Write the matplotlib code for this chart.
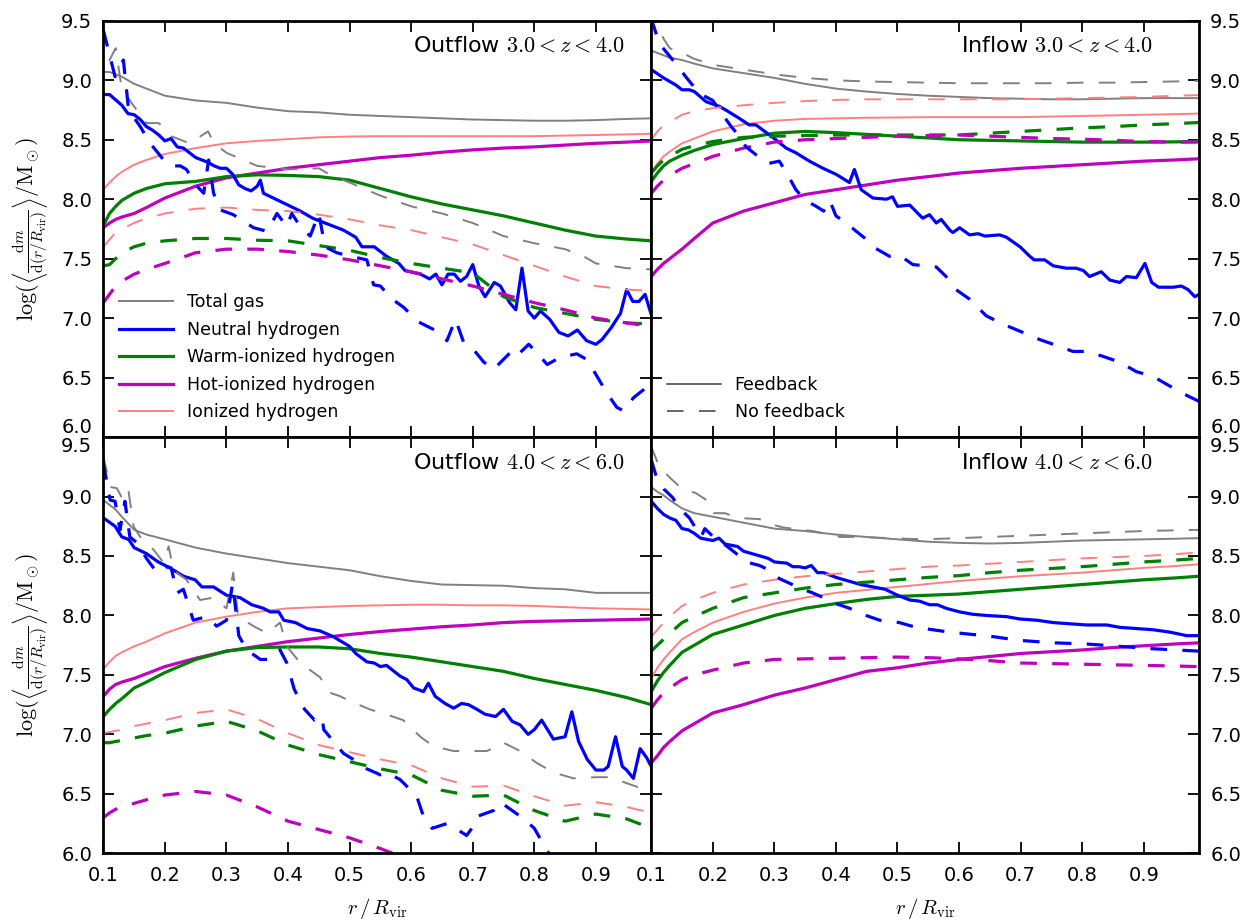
"""Radial mass profiles of gas phases, outflow vs inflow, two redshift bins."""
import matplotlib

matplotlib.use("Agg")
import matplotlib.pyplot as plt  # noqa: E402

plt.rcParams["mathtext.fontset"] = "cm"
plt.rcParams["font.family"] = "DejaVu Sans"
plt.rcParams["lines.scale_dashes"] = False

# common radial grid for the smooth profiles (r / R_vir)
XC = [0.10, 0.11, 0.12, 0.13, 0.15, 0.17, 0.20, 0.25, 0.30, 0.35, 0.40, 0.45,
      0.50, 0.55, 0.60, 0.65, 0.70, 0.75, 0.80, 0.85, 0.90, 0.95, 0.99]
XTICKS = [0.1, 0.2, 0.3, 0.4, 0.5, 0.6, 0.7, 0.8, 0.9]
YTICKS = [6.0, 6.5, 7.0, 7.5, 8.0, 8.5, 9.0, 9.5]

# ---------------- Outflow 3 < z < 4 ----------------
out34_total_fb = [9.07, 9.07, 9.05, 9.03, 8.97, 8.93, 8.87, 8.83, 8.81, 8.77, 8.74, 8.73,
                  8.71, 8.70, 8.69, 8.68, 8.67, 8.665, 8.66, 8.66, 8.665, 8.675, 8.68]
out34_ion_fb = [8.08, 8.14, 8.19, 8.23, 8.29, 8.33, 8.38, 8.43, 8.47, 8.49, 8.505, 8.52,
                8.527, 8.53, 8.53, 8.53, 8.53, 8.53, 8.53, 8.535, 8.54, 8.545, 8.55]
out34_hot_fb = [7.76, 7.80, 7.83, 7.85, 7.88, 7.93, 8.01, 8.11, 8.18, 8.22, 8.26, 8.29,
                8.32, 8.35, 8.37, 8.395, 8.415, 8.43, 8.44, 8.455, 8.47, 8.48, 8.49]
out34_warm_fb = [7.78, 7.88, 7.94, 7.99, 8.05, 8.09, 8.13, 8.15, 8.19, 8.205, 8.20, 8.19,
                 8.16, 8.09, 8.02, 7.96, 7.91, 7.86, 7.80, 7.74, 7.69, 7.665, 7.65]
out34_ion_nofb = [7.60, 7.66, 7.72, 7.75, 7.80, 7.84, 7.88, 7.92, 7.93, 7.91, 7.90, 7.87,
                  7.83, 7.78, 7.74, 7.68, 7.62, 7.53, 7.44, 7.35, 7.27, 7.24, 7.23]
out34_warm_nofb = [7.44, 7.45, 7.50, 7.55, 7.60, 7.63, 7.65, 7.67, 7.67, 7.655, 7.65, 7.61,
                   7.57, 7.51, 7.46, 7.42, 7.38, 7.18, 7.09, 7.04, 6.99, 6.96, 6.95]
out34_hot_nofb = [7.13, 7.20, 7.27, 7.31, 7.37, 7.41, 7.46, 7.55, 7.58, 7.58, 7.56, 7.53,
                  7.49, 7.44, 7.39, 7.33, 7.27, 7.20, 7.13, 7.07, 7.00, 6.96, 6.93]
out34_total_nofb_x = [0.10, 0.11, 0.12, 0.13, 0.15, 0.17, 0.19, 0.21, 0.24, 0.27, 0.28, 0.30,
                      0.35, 0.40, 0.45, 0.47, 0.50, 0.55, 0.60, 0.65, 0.70, 0.75, 0.80,
                      0.85, 0.88, 0.90, 0.95, 0.99]
out34_total_nofb = [9.44, 9.17, 9.27, 8.92, 8.78, 8.64, 8.64, 8.53, 8.47, 8.57, 8.47, 8.39,
                    8.28, 8.25, 8.26, 8.20, 8.14, 8.03, 7.94, 7.88, 7.80, 7.69, 7.63,
                    7.58, 7.52, 7.46, 7.42, 7.41]
out34_neut_fb_x = [0.10, 0.11, 0.12, 0.13, 0.14, 0.15, 0.16, 0.17, 0.18, 0.19, 0.20, 0.21,
                   0.22, 0.23, 0.24, 0.25, 0.26, 0.27, 0.28, 0.29, 0.30, 0.31, 0.32, 0.33,
                   0.34, 0.35, 0.355, 0.36, 0.38, 0.40, 0.42, 0.44, 0.45, 0.47, 0.49, 0.51,
                   0.52, 0.54, 0.55, 0.56, 0.58, 0.59, 0.615, 0.63, 0.64, 0.65, 0.66, 0.67,
                   0.68, 0.69, 0.70, 0.71, 0.72, 0.735, 0.745, 0.76, 0.77, 0.78, 0.79, 0.80,
                   0.81, 0.825, 0.84, 0.855, 0.87, 0.885, 0.90, 0.91, 0.925, 0.94, 0.95,
                   0.96, 0.97, 0.98, 0.99]
out34_neut_fb = [8.88, 8.88, 8.835, 8.79, 8.72, 8.71, 8.67, 8.61, 8.58, 8.54, 8.49, 8.51,
                 8.44, 8.43, 8.39, 8.35, 8.33, 8.31, 8.28, 8.26, 8.26, 8.21, 8.12, 8.09,
                 8.07, 8.11, 8.16, 8.05, 8.00, 7.95, 7.90, 7.84, 7.82, 7.78, 7.74, 7.68,
                 7.60, 7.60, 7.56, 7.52, 7.46, 7.40, 7.37, 7.33, 7.37, 7.28, 7.37, 7.37,
                 7.31, 7.35, 7.45, 7.27, 7.18, 7.30, 7.27, 7.13, 7.07, 7.42, 7.06, 7.00,
                 7.06, 6.99, 6.88, 6.85, 6.90, 6.81, 6.78, 6.82, 6.92, 7.04, 7.24,
                 7.14, 7.14, 7.20, 7.03]
out34_neut_nofb_x = [0.10, 0.119, 0.1325, 0.141, 0.16, 0.176, 0.198, 0.208, 0.225, 0.235,
                     0.252, 0.263, 0.271, 0.279, 0.29, 0.311, 0.344, 0.366, 0.382, 0.398,
                     0.406, 0.42, 0.436, 0.45, 0.46, 0.479, 0.501, 0.528, 0.539, 0.55,
                     0.569, 0.588, 0.607, 0.615, 0.642, 0.658, 0.672, 0.685, 0.699, 0.718,
                     0.734, 0.761, 0.769, 0.791, 0.804, 0.821, 0.842, 0.869, 0.886, 0.902,
                     0.918, 0.934, 0.945, 0.961, 0.978, 0.99]
out34_neut_nofb = [9.42, 9.03, 9.17, 8.75, 8.61, 8.47, 8.33, 8.28, 8.28, 8.25,
                   8.11, 8.05, 8.33, 8.05, 7.91, 7.87, 7.76, 7.73, 7.88, 7.77,
                   7.88, 7.77, 7.69, 7.88, 7.60, 7.55, 7.52, 7.49, 7.28, 7.27,
                   7.16, 7.09, 6.99, 6.96, 6.89, 6.81, 6.99, 6.80, 6.75, 6.63,
                   6.57, 6.71, 6.67, 6.78, 6.71, 6.61, 6.67, 6.70, 6.65, 6.51,
                   6.37, 6.25, 6.22, 6.33, 6.40, 6.45]

# ---------------- Inflow 3 < z < 4 ----------------
in34_total_fb = [9.25, 9.23, 9.21, 9.19, 9.17, 9.14, 9.10, 9.06, 9.02, 8.97, 8.93, 8.905,
                 8.885, 8.87, 8.86, 8.85, 8.845, 8.84, 8.84, 8.845, 8.85, 8.85, 8.85]
in34_total_nofb = [9.62, 9.45, 9.35, 9.27, 9.23, 9.18, 9.13, 9.09, 9.05, 9.02, 9.00, 8.99,
                   8.985, 8.98, 8.975, 8.975, 8.975, 8.975, 8.98, 8.98, 8.985, 8.99, 8.995]
in34_ion_fb = [8.22, 8.30, 8.36, 8.40, 8.47, 8.51, 8.57, 8.63, 8.66, 8.675, 8.68, 8.685,
               8.687, 8.69, 8.69, 8.69, 8.69, 8.695, 8.70, 8.705, 8.71, 8.715, 8.72]
in34_ion_nofb = [8.50, 8.57, 8.62, 8.65, 8.71, 8.74, 8.765, 8.79, 8.81, 8.825, 8.835, 8.84,
                 8.84, 8.84, 8.84, 8.84, 8.84, 8.845, 8.85, 8.855, 8.86, 8.87, 8.875]
in34_warm_fb = [8.15, 8.22, 8.28, 8.32, 8.37, 8.41, 8.46, 8.51, 8.555, 8.57, 8.56, 8.545,
                8.53, 8.515, 8.50, 8.495, 8.49, 8.485, 8.48, 8.48, 8.48, 8.482, 8.485]
in34_warm_nofb = [8.22, 8.28, 8.33, 8.36, 8.42, 8.45, 8.485, 8.52, 8.53, 8.535, 8.54, 8.54,
                  8.54, 8.54, 8.54, 8.555, 8.57, 8.585, 8.60, 8.61, 8.625, 8.635, 8.645]
in34_hot_fb = [7.35, 7.41, 7.46, 7.50, 7.58, 7.67, 7.80, 7.90, 7.97, 8.04, 8.08, 8.12,
               8.16, 8.19, 8.22, 8.24, 8.26, 8.275, 8.29, 8.305, 8.32, 8.33, 8.34]
in34_hot_nofb = [8.05, 8.11, 8.16, 8.20, 8.26, 8.30, 8.36, 8.43, 8.48, 8.50, 8.51, 8.52,
                 8.53, 8.535, 8.54, 8.53, 8.52, 8.51, 8.505, 8.495, 8.485, 8.48, 8.48]
in34_neut_fb_x = [0.10, 0.12, 0.14, 0.15, 0.162, 0.17, 0.189, 0.211, 0.221, 0.243, 0.259,
                  0.27, 0.30, 0.319, 0.335, 0.357, 0.379, 0.40, 0.422, 0.43, 0.441, 0.46,
                  0.482, 0.492, 0.50, 0.52, 0.541, 0.552, 0.563, 0.571, 0.585, 0.59, 0.601,
                  0.617, 0.631, 0.642, 0.666, 0.677, 0.699, 0.715, 0.722, 0.739, 0.753,
                  0.774, 0.79, 0.802, 0.812, 0.831, 0.845, 0.861, 0.872, 0.888, 0.902,
                  0.913, 0.924, 0.948, 0.961, 0.972, 0.983, 0.99]
in34_neut_fb = [9.09, 9.02, 8.96, 8.92, 8.92, 8.905, 8.82, 8.78, 8.75, 8.68, 8.625,
                8.625, 8.51, 8.43, 8.39, 8.32, 8.26, 8.21, 8.14, 8.25, 8.08, 8.01,
                8.00, 8.02, 7.94, 7.95, 7.84, 7.87, 7.80, 7.83, 7.74, 7.72, 7.76,
                7.70, 7.71, 7.69, 7.70, 7.68, 7.60, 7.52, 7.49, 7.49, 7.44,
                7.42, 7.42, 7.40, 7.35, 7.39, 7.32, 7.30, 7.35, 7.34, 7.46,
                7.30, 7.26, 7.26, 7.27, 7.24, 7.18, 7.20]
in34_neut_nofb_x = [0.10, 0.113, 0.135, 0.156, 0.178, 0.20, 0.216, 0.23, 0.243, 0.254,
                    0.276, 0.29, 0.308, 0.32, 0.335, 0.35, 0.368, 0.38, 0.39, 0.40, 0.417,
                    0.433, 0.45, 0.46, 0.487, 0.503, 0.525, 0.547, 0.563, 0.579, 0.595,
                    0.617, 0.644, 0.671, 0.699, 0.731, 0.753, 0.785, 0.807, 0.833, 0.861,
                    0.888, 0.915, 0.942, 0.97, 0.99]
in34_neut_nofb = [9.52, 9.31, 9.17, 9.03, 8.89, 8.83, 8.71, 8.61, 8.53, 8.44,
                  8.35, 8.30, 8.32, 8.22, 8.08, 7.99, 7.94, 7.90, 7.99, 7.86, 7.80,
                  7.73, 7.66, 7.60, 7.52, 7.53, 7.45, 7.44, 7.43, 7.35, 7.24,
                  7.16, 7.02, 6.95, 6.89, 6.82, 6.78, 6.72, 6.72, 6.68, 6.63,
                  6.55, 6.51, 6.43, 6.35, 6.30]

# ---------------- Outflow 4 < z < 6 ----------------
out46_total_fb = [8.97, 8.93, 8.89, 8.83, 8.72, 8.68, 8.64, 8.57, 8.52, 8.48, 8.44, 8.41,
                  8.38, 8.33, 8.29, 8.26, 8.255, 8.25, 8.23, 8.22, 8.19, 8.19, 8.19]
out46_ion_fb = [7.55, 7.61, 7.66, 7.69, 7.74, 7.78, 7.85, 7.94, 7.99, 8.03, 8.06, 8.07,
                8.08, 8.085, 8.09, 8.09, 8.085, 8.085, 8.08, 8.07, 8.06, 8.055, 8.05]
out46_hot_fb = [7.32, 7.38, 7.42, 7.44, 7.47, 7.51, 7.57, 7.64, 7.70, 7.74, 7.78, 7.81,
                7.84, 7.865, 7.885, 7.905, 7.92, 7.94, 7.95, 7.955, 7.96, 7.965, 7.97]
out46_warm_fb = [7.15, 7.21, 7.26, 7.30, 7.39, 7.44, 7.52, 7.63, 7.70, 7.73, 7.735, 7.735,
                 7.72, 7.68, 7.65, 7.61, 7.57, 7.53, 7.47, 7.42, 7.37, 7.31, 7.25]
out46_ion_nofb = [7.01, 7.02, 7.03, 7.04, 7.07, 7.09, 7.12, 7.18, 7.21, 7.13, 7.01, 6.91,
                  6.85, 6.79, 6.74, 6.63, 6.56, 6.57, 6.48, 6.40, 6.43, 6.39, 6.34]
out46_warm_nofb = [6.93, 6.93, 6.94, 6.95, 6.97, 6.99, 7.01, 7.07, 7.11, 7.03, 6.91, 6.83,
                   6.77, 6.71, 6.66, 6.53, 6.48, 6.49, 6.36, 6.27, 6.33, 6.29, 6.21]
out46_hot_nofb_x = [0.10, 0.11, 0.12, 0.13, 0.15, 0.17, 0.20, 0.25, 0.30, 0.35, 0.40, 0.45,
                    0.50, 0.55, 0.60]
out46_hot_nofb = [6.30, 6.34, 6.37, 6.39, 6.42, 6.45, 6.49, 6.52, 6.49, 6.39, 6.27, 6.20,
                  6.13, 6.04, 5.94]
out46_total_nofb_x = [0.10, 0.111, 0.122, 0.133, 0.141, 0.149, 0.16, 0.182, 0.198, 0.206,
                      0.214, 0.235, 0.257, 0.279, 0.30, 0.311, 0.319, 0.344, 0.366, 0.387,
                      0.398, 0.42, 0.436, 0.452, 0.468, 0.485, 0.50, 0.533, 0.57, 0.587,
                      0.615, 0.636, 0.669, 0.70, 0.723, 0.75, 0.777, 0.804, 0.831, 0.864,
                      0.90, 0.923, 0.95, 0.972, 0.99]
out46_total_nofb = [9.34, 9.08, 9.07, 8.96, 9.04, 8.75, 8.66, 8.55, 8.44, 8.58,
                    8.38, 8.30, 8.13, 8.15, 8.06, 8.36, 7.99, 7.91, 7.85, 7.94,
                    7.74, 7.60, 7.54, 7.48, 7.35, 7.32, 7.28, 7.21, 7.15, 7.12,
                    6.98, 6.90, 6.86, 6.86, 6.86, 6.93, 6.86, 6.76, 6.68, 6.63,
                    6.64, 6.64, 6.59, 6.55, 6.54]
out46_neut_fb_x = [0.10, 0.119, 0.13, 0.141, 0.15, 0.17, 0.189, 0.208, 0.23, 0.249, 0.26,
                   0.279, 0.30, 0.322, 0.341, 0.36, 0.371, 0.385, 0.393, 0.412, 0.431,
                   0.452, 0.474, 0.50, 0.51, 0.528, 0.54, 0.55, 0.56, 0.582, 0.593, 0.604,
                   0.62, 0.628, 0.639, 0.655, 0.669, 0.682, 0.693, 0.707, 0.72, 0.737,
                   0.75, 0.764, 0.777, 0.79, 0.80, 0.812, 0.831, 0.85, 0.861, 0.872,
                   0.886, 0.90, 0.913, 0.92, 0.932, 0.943, 0.95, 0.961, 0.972, 0.983, 0.99]
out46_neut_fb = [8.82, 8.75, 8.66, 8.64, 8.57, 8.52, 8.45, 8.40, 8.33, 8.30, 8.24,
                 8.24, 8.17, 8.15, 8.09, 8.06, 8.03, 8.03, 7.96, 7.94, 7.89,
                 7.87, 7.82, 7.74, 7.68, 7.61, 7.60, 7.57, 7.58, 7.49, 7.46, 7.39,
                 7.36, 7.43, 7.32, 7.26, 7.22, 7.26, 7.25, 7.21, 7.17, 7.15,
                 7.21, 7.11, 7.08, 7.00, 7.04, 7.12, 6.96, 6.98, 7.19, 6.94,
                 6.79, 6.70, 6.70, 6.73, 6.98, 6.73, 6.70, 6.63, 6.88, 6.80, 6.73]
out46_neut_nofb_x = [0.10, 0.111, 0.119, 0.127, 0.135, 0.143, 0.155, 0.17, 0.187, 0.203,
                     0.21, 0.22, 0.23, 0.246, 0.268, 0.284, 0.30, 0.31, 0.32, 0.333, 0.355,
                     0.37, 0.387, 0.398, 0.41, 0.427, 0.443, 0.455, 0.458, 0.474, 0.49,
                     0.506, 0.528, 0.55, 0.56, 0.582, 0.609, 0.62, 0.634, 0.658, 0.669,
                     0.69, 0.70, 0.707, 0.734, 0.745, 0.764, 0.783, 0.80, 0.82, 0.83]
out46_neut_nofb = [9.28, 8.97, 8.96, 8.72, 8.96, 8.66, 8.61, 8.48, 8.36, 8.41,
                   8.40, 8.19, 8.22, 7.96, 7.99, 7.91, 7.96, 8.27, 7.83, 7.71, 7.63,
                   7.63, 7.71, 7.60, 7.38, 7.21, 7.12, 7.15, 7.04, 6.94, 6.84,
                   6.79, 6.71, 6.66, 6.68, 6.62, 6.48, 6.31, 6.21, 6.25, 6.22,
                   6.15, 6.22, 6.31, 6.36, 6.43, 6.36, 6.29, 6.21, 6.03, 5.95]

# ---------------- Inflow 4 < z < 6 ----------------
in46_total_fb = [9.08, 9.04, 9.01, 8.97, 8.90, 8.86, 8.83, 8.78, 8.73, 8.71, 8.68, 8.66,
                 8.64, 8.62, 8.61, 8.605, 8.61, 8.62, 8.63, 8.635, 8.64, 8.645, 8.65]
in46_ion_fb = [7.47, 7.56, 7.63, 7.69, 7.80, 7.86, 7.94, 8.03, 8.10, 8.15, 8.19, 8.215,
               8.24, 8.265, 8.29, 8.31, 8.33, 8.345, 8.36, 8.38, 8.40, 8.415, 8.43]
in46_ion_nofb = [7.82, 7.88, 7.94, 7.99, 8.08, 8.13, 8.19, 8.26, 8.30, 8.33, 8.35, 8.37,
                 8.39, 8.41, 8.42, 8.435, 8.45, 8.465, 8.48, 8.49, 8.50, 8.515, 8.53]
in46_warm_fb = [7.36, 7.45, 7.52, 7.58, 7.69, 7.75, 7.84, 7.92, 8.00, 8.06, 8.10, 8.135,
                8.16, 8.17, 8.18, 8.20, 8.22, 8.24, 8.26, 8.28, 8.30, 8.315, 8.33]
in46_warm_nofb = [7.70, 7.75, 7.80, 7.85, 7.94, 7.99, 8.06, 8.15, 8.19, 8.23, 8.26, 8.28,
                  8.30, 8.32, 8.335, 8.36, 8.38, 8.395, 8.41, 8.43, 8.45, 8.465, 8.48]
in46_hot_fb = [6.76, 6.82, 6.89, 6.94, 7.03, 7.09, 7.18, 7.25, 7.33, 7.39, 7.46, 7.53,
               7.56, 7.60, 7.63, 7.655, 7.68, 7.695, 7.71, 7.73, 7.745, 7.76, 7.77]
in46_hot_nofb = [7.22, 7.29, 7.35, 7.39, 7.46, 7.50, 7.54, 7.60, 7.63, 7.635, 7.64, 7.645,
                 7.65, 7.645, 7.635, 7.62, 7.60, 7.595, 7.59, 7.585, 7.58, 7.575, 7.57]
in46_total_nofb_x = [0.10, 0.113, 0.132, 0.151, 0.172, 0.19, 0.20, 0.22, 0.24, 0.276, 0.286,
                     0.314, 0.362, 0.406, 0.44, 0.487, 0.541, 0.60, 0.70, 0.80, 0.90, 0.99]
in46_total_nofb = [9.42, 9.25, 9.15, 9.06, 9.03, 8.97, 8.86, 8.86, 8.82, 8.81, 8.78,
                   8.74, 8.71, 8.66, 8.66, 8.65, 8.64, 8.65, 8.67, 8.69, 8.71, 8.72]
in46_neut_fb_x = [0.10, 0.11, 0.12, 0.13, 0.14, 0.15, 0.16, 0.17, 0.18, 0.19, 0.20, 0.21,
                  0.22, 0.24, 0.25, 0.27, 0.29, 0.30, 0.32, 0.33, 0.34, 0.35, 0.36, 0.37,
                  0.38, 0.40, 0.42, 0.44, 0.46, 0.48, 0.50, 0.52, 0.536, 0.552, 0.565,
                  0.579, 0.601, 0.622, 0.644, 0.677, 0.699, 0.726, 0.753, 0.78, 0.807,
                  0.84, 0.861, 0.888, 0.915, 0.942, 0.97, 0.99]
in46_neut_fb = [8.96, 8.90, 8.85, 8.82, 8.80, 8.73, 8.72, 8.69, 8.65, 8.64, 8.63, 8.65,
                8.60, 8.58, 8.54, 8.51, 8.48, 8.45, 8.44, 8.41, 8.41, 8.40, 8.42, 8.36,
                8.36, 8.32, 8.29, 8.26, 8.24, 8.22, 8.17, 8.13, 8.12, 8.09, 8.09,
                8.06, 8.03, 8.01, 8.00, 7.99, 7.97, 7.96, 7.94, 7.93, 7.92,
                7.92, 7.90, 7.89, 7.88, 7.86, 7.83, 7.83]
in46_neut_nofb_x = [0.10, 0.108, 0.121, 0.135, 0.146, 0.162, 0.181, 0.187, 0.205, 0.221,
                    0.243, 0.254, 0.276, 0.292, 0.308, 0.325, 0.341, 0.362, 0.384, 0.40,
                    0.422, 0.449, 0.471, 0.503, 0.53, 0.557, 0.584, 0.622, 0.644, 0.699,
                    0.753, 0.807, 0.861, 0.915, 0.99]
in46_neut_nofb = [9.31, 9.17, 9.06, 8.99, 8.90, 8.82, 8.66, 8.73, 8.64, 8.59,
                  8.50, 8.45, 8.42, 8.38, 8.31, 8.27, 8.23, 8.19, 8.14, 8.10,
                  8.06, 8.00, 7.96, 7.94, 7.90, 7.88, 7.86, 7.84, 7.83, 7.79,
                  7.77, 7.76, 7.74, 7.72, 7.70]

# ---------------- styling ----------------
C_TOTAL, C_NEUT, C_WARM, C_HOT, C_ION = "#808080", "#0000ff", "#008000", "#bf00bf", "#ff8080"
THICK, THIN = 2.3, 1.4
DASH = (12, 11)


def draw_panel(ax, curves):
    for x, y, color, lw, dashed in curves:
        if dashed:
            ax.plot(x, y, color=color, lw=lw, dashes=DASH)
        else:
            ax.plot(x, y, color=color, lw=lw)


panels = {
    (0, 0): ("Outflow $3.0 < z < 4.0$", [
        (XC, out34_total_fb, C_TOTAL, THIN, False),
        (XC, out34_ion_fb, C_ION, THIN, False),
        (XC, out34_hot_fb, C_HOT, THICK, False),
        (XC, out34_warm_fb, C_WARM, THICK, False),
        (out34_neut_fb_x, out34_neut_fb, C_NEUT, THICK, False),
        (out34_total_nofb_x, out34_total_nofb, C_TOTAL, THIN, True),
        (XC, out34_ion_nofb, C_ION, THIN, True),
        (XC, out34_warm_nofb, C_WARM, THICK, True),
        (XC, out34_hot_nofb, C_HOT, THICK, True),
        (out34_neut_nofb_x, out34_neut_nofb, C_NEUT, THICK, True),
    ]),
    (0, 1): ("Inflow $3.0 < z < 4.0$", [
        (XC, in34_total_fb, C_TOTAL, THIN, False),
        (XC, in34_ion_fb, C_ION, THIN, False),
        (XC, in34_warm_fb, C_WARM, THICK, False),
        (XC, in34_hot_fb, C_HOT, THICK, False),
        (in34_neut_fb_x, in34_neut_fb, C_NEUT, THICK, False),
        (XC, in34_total_nofb, C_TOTAL, THIN, True),
        (XC, in34_ion_nofb, C_ION, THIN, True),
        (XC, in34_warm_nofb, C_WARM, THICK, True),
        (XC, in34_hot_nofb, C_HOT, THICK, True),
        (in34_neut_nofb_x, in34_neut_nofb, C_NEUT, THICK, True),
    ]),
    (1, 0): ("Outflow $4.0 < z < 6.0$", [
        (XC, out46_total_fb, C_TOTAL, THIN, False),
        (XC, out46_ion_fb, C_ION, THIN, False),
        (XC, out46_hot_fb, C_HOT, THICK, False),
        (XC, out46_warm_fb, C_WARM, THICK, False),
        (out46_neut_fb_x, out46_neut_fb, C_NEUT, THICK, False),
        (out46_total_nofb_x, out46_total_nofb, C_TOTAL, THIN, True),
        (XC, out46_ion_nofb, C_ION, THIN, True),
        (XC, out46_warm_nofb, C_WARM, THICK, True),
        (out46_hot_nofb_x, out46_hot_nofb, C_HOT, THICK, True),
        (out46_neut_nofb_x, out46_neut_nofb, C_NEUT, THICK, True),
    ]),
    (1, 1): ("Inflow $4.0 < z < 6.0$", [
        (XC, in46_total_fb, C_TOTAL, THIN, False),
        (XC, in46_ion_fb, C_ION, THIN, False),
        (XC, in46_warm_fb, C_WARM, THICK, False),
        (XC, in46_hot_fb, C_HOT, THICK, False),
        (in46_neut_fb_x, in46_neut_fb, C_NEUT, THICK, False),
        (in46_total_nofb_x, in46_total_nofb, C_TOTAL, THIN, True),
        (XC, in46_ion_nofb, C_ION, THIN, True),
        (XC, in46_warm_nofb, C_WARM, THICK, True),
        (XC, in46_hot_nofb, C_HOT, THICK, True),
        (in46_neut_nofb_x, in46_neut_nofb, C_NEUT, THICK, True),
    ]),
}

fig, axes = plt.subplots(2, 2, figsize=(12.53, 9.21), dpi=100)
fig.subplots_adjust(left=0.0825, right=0.957, top=0.9774, bottom=0.0735,
                    wspace=0, hspace=0)

ylab = (r"$\log(\left\langle\frac{\mathrm{d}m}{\mathrm{d}(r/R_{\rm vir})}\right\rangle"
        r"/\mathrm{M}_\odot)$")

for (i, j), (title, curves) in panels.items():
    ax = axes[i, j]
    draw_panel(ax, curves)
    ax.set_xlim(0.1, 0.99)
    ax.set_ylim(6.0, 9.5)
    ax.set_xticks(XTICKS)
    ax.set_yticks(YTICKS)
    for sp in ax.spines.values():
        sp.set_linewidth(2.0)
    ax.tick_params(direction="in", length=8, width=1.3, labelsize=14,
                   top=True, bottom=True, left=True, right=True,
                   labelbottom=(i == 1), labelleft=(j == 0), labelright=(j == 1))
    ax.tick_params(axis="x", pad=9)
    ax.tick_params(axis="y", pad=8)
    # keep the labels at the shared top/bottom edge from colliding
    yt = ax.yaxis.get_major_ticks()
    edge = yt[0] if i == 0 else yt[-1]
    for lab in (edge.label1, edge.label2):
        lab.set_verticalalignment("bottom" if i == 0 else "top")
    ax.text(0.565, 0.94, title, transform=ax.transAxes, fontsize=16,
            ha="left", va="center")
    if j == 0:
        ax.set_ylabel(ylab, fontsize=16, labelpad=8)
    if i == 1:
        ax.set_xlabel(r"$r\,/\,R_{\rm vir}$", fontsize=15, labelpad=8)

# species legend
ax = axes[0, 0]
handles = [
    plt.Line2D([], [], color=C_TOTAL, lw=THIN),
    plt.Line2D([], [], color=C_NEUT, lw=THICK),
    plt.Line2D([], [], color=C_WARM, lw=THICK),
    plt.Line2D([], [], color=C_HOT, lw=THICK),
    plt.Line2D([], [], color=C_ION, lw=THIN),
]
ax.legend(handles, ["Total gas", "Neutral hydrogen", "Warm-ionized hydrogen",
                    "Hot-ionized hydrogen", "Ionized hydrogen"],
          loc="lower left", frameon=False, fontsize=12.5, handlelength=3.1,
          labelspacing=0.55)

# feedback / no feedback legend
ax = axes[0, 1]
handles = [
    plt.Line2D([], [], color="0.3", lw=1.2),
    plt.Line2D([], [], color="0.3", lw=1.2, dashes=DASH),
]
ax.legend(handles, ["Feedback", "No feedback"], loc="lower left", frameon=False,
          fontsize=12.5, handlelength=3.1, labelspacing=0.55)

fig.savefig("out.png", dpi=100)
plt.close(fig)
